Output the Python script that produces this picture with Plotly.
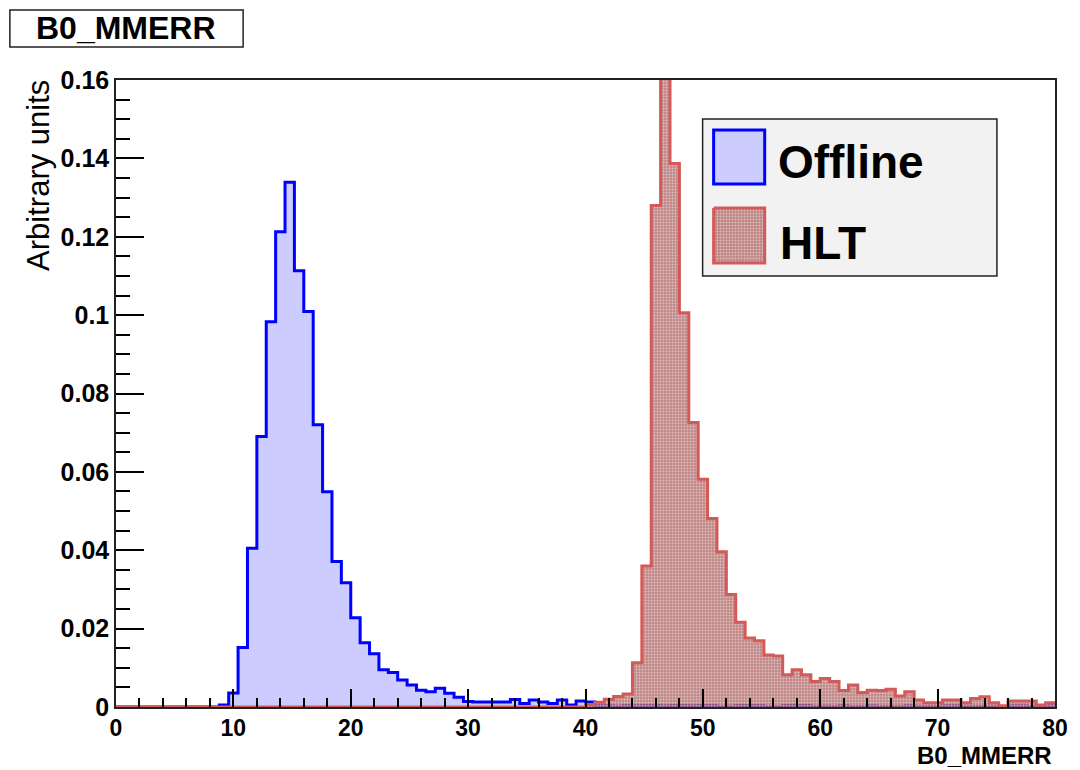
import numpy as np
import plotly.graph_objects as go

# ---------------- data ----------------
x_min, x_max = 0.0, 80.0
n_bins = 100
bin_edges = np.linspace(x_min, x_max, n_bins + 1)

offline_values = [
    0, 0, 0, 0, 0, 0, 0, 0, 0, 0,
    0, 0.0005, 0.0036, 0.0152, 0.0405, 0.0690, 0.0983, 0.1213, 0.1339, 0.1113,
    0.1009, 0.0720, 0.0549, 0.0371, 0.0317, 0.0228, 0.0164, 0.0136, 0.0095, 0.0088,
    0.0069, 0.0056, 0.0043, 0.0039, 0.0048, 0.0035, 0.0025, 0.0014, 0.0013, 0.0013,
    0.0013, 0.0013, 0.0019, 0.0009, 0.0018, 0.0013, 0.0009, 0.0018, 0.0005, 0.0015,
    0.0013, 0.0004, 0.0003, 0.0002, 0.0004, 0.0003, 0.0004, 0.0004, 0.0003, 0.0004,
    0.0004, 0.0003, 0.0004, 0.0004, 0.0001, 0.0002, 0.0004, 0.0004, 0.0004, 0.0001,
    0.0001, 0.0004, 0.0004, 0.0004, 0.0001, 0.0002, 0.0001, 0.0003, 0.0001, 0.0001,
    0.0003, 0.0001, 0.0001, 0.0001, 0.0003, 0.0001, 0.0001, 0.0001, 0.0003, 0.0003,
    0.0001, 0.0001, 0.0001, 0.0001, 0.0001, 0.0003, 0.0003, 0.0001, 0.0001, 0.0003,
]

hlt_values = [
    0, 0, 0, 0, 0, 0, 0, 0, 0, 0,
    0, 0, 0, 0, 0, 0, 0, 0, 0, 0,
    0, 0, 0, 0, 0, 0, 0, 0, 0, 0,
    0, 0, 0, 0, 0, 0, 0, 0, 0, 0,
    0, 0, 0, 0, 0, 0, 0, 0, 0, 0,
    0.0006, 0.0012, 0.0020, 0.0027, 0.0033, 0.0113, 0.0360, 0.1280, 0.1700, 0.1387,
    0.1006, 0.0726, 0.0581, 0.0481, 0.0396, 0.0287, 0.0216, 0.0176, 0.0169, 0.0133,
    0.0130, 0.0082, 0.0095, 0.0082, 0.0065, 0.0073, 0.0065, 0.0042, 0.0056, 0.0037,
    0.0043, 0.0042, 0.0045, 0.0028, 0.0039, 0.0018, 0.0011, 0.0011, 0.0018, 0.0018,
    0.0011, 0.0022, 0.0026, 0.0011, 0.0003, 0.0015, 0.0015, 0.0015, 0.0005, 0.0011,
]

x_ticks = [0, 10, 20, 30, 40, 50, 60, 70, 80]
y_ticks = [0, 0.02, 0.04, 0.06, 0.08, 0.1, 0.12, 0.14, 0.16]
y_ticktext = ["0", "0.02", "0.04", "0.06", "0.08", "0.1", "0.12", "0.14", "0.16"]
series_names = ["Offline", "HLT"]
title_text = "B0_MMERR"
x_title = "B0_MMERR"
y_title = "Arbitrary units"

# ---------------- style ----------------
BLUE = "#0000FF"
BLUE_FILL = "#CCCCFF"
RED = "#D45A5A"
FONT = "Liberation Sans, Arial, Helvetica, sans-serif"
HATCH = dict(shape=".", size=3, solidity=0.35, fgcolor="rgba(255,255,255,0.95)",
             bgcolor="rgba(176,100,100,0.78)")

# page offset of the figure (browser body margin)
OFF = 8
W, H = 1080 - OFF, 770 - OFF
# plot-area edges in page pixels
L, R, T, B = 116, 1054, 80, 707


def px(x):
    return (x - L) / (R - L)


def py(y):
    return (B - y) / (B - T)


def step_xy(values):
    xs = list(bin_edges)
    ys = list(values) + [values[-1]]
    return xs, ys


fig = go.Figure()

ox, oy = step_xy(offline_values)
fig.add_trace(go.Scatter(
    x=ox, y=oy, mode="lines", line=dict(color=BLUE, width=3, shape="hv"),
    fill="tozeroy", fillcolor=BLUE_FILL, name=series_names[0], showlegend=False,
    hoverinfo="skip",
))

hx, hy = step_xy(hlt_values)
fig.add_trace(go.Scatter(
    x=hx, y=hy, mode="lines", line=dict(color=RED, width=3, shape="hv"),
    fill="tozeroy", fillcolor="rgba(255,255,255,0)", fillpattern=HATCH,
    name=series_names[1], showlegend=False, hoverinfo="skip",
))

# legend symbol for HLT (pattern) on a pixel-based overlay axis
lx0, lx1, ly0, ly1 = 713, 764, 208, 263
fig.add_trace(go.Scatter(
    x=[lx0, lx1, lx1, lx0, lx0], y=[ly0, ly0, ly1, ly1, ly0],
    xaxis="x2", yaxis="y2", mode="lines", line=dict(color=RED, width=3),
    fill="toself", fillcolor="rgba(255,255,255,0)", fillpattern=HATCH,
    showlegend=False, hoverinfo="skip",
))

shapes = [
    dict(type="rect", xref="paper", yref="paper", x0=px(702), x1=px(996),
         y0=py(119), y1=py(276), fillcolor="#F2F2F2",
         line=dict(color="#222222", width=1.5), layer="below"),
    dict(type="rect", xref="paper", yref="paper", x0=px(713), x1=px(764),
         y0=py(130), y1=py(184), fillcolor=BLUE_FILL,
         line=dict(color=BLUE, width=3), layer="above"),
    dict(type="rect", xref="paper", yref="paper", x0=px(10), x1=px(243),
         y0=py(10), y1=py(47), fillcolor="white",
         line=dict(color="#222222", width=1.5)),
]

annotations = [
    dict(text=title_text, xref="paper", yref="paper", x=px(126), y=py(28),
         xanchor="center", yanchor="middle", showarrow=False,
         font=dict(family=FONT, size=32, color="black", weight="bold")),
    dict(text=series_names[0], xref="paper", yref="paper", x=px(775), y=py(162),
         xanchor="left", yanchor="middle", showarrow=False,
         font=dict(family=FONT, size=46, color="black", weight="bold")),
    dict(text=series_names[1], xref="paper", yref="paper", x=px(777), y=py(243),
         xanchor="left", yanchor="middle", showarrow=False,
         font=dict(family=FONT, size=46, color="black", weight="bold")),
    dict(text=x_title, xref="paper", yref="paper", x=px(1053), y=py(755),
         xanchor="right", yanchor="middle", showarrow=False,
         font=dict(family=FONT, size=24, color="black", weight="bold")),
    dict(text=y_title, xref="paper", yref="paper", x=px(38), y=py(175),
         xanchor="center", yanchor="middle", textangle=-90, showarrow=False,
         font=dict(family=FONT, size=31, color="black")),
]

fig.update_layout(
    width=W, height=H,
    margin=dict(l=L - OFF, r=(W + OFF) - R - OFF, t=T - OFF, b=(H + OFF) - B, pad=0),
    paper_bgcolor="white", plot_bgcolor="white",
    showlegend=False,
    shapes=shapes, annotations=annotations,
    xaxis=dict(
        range=[x_min, x_max], tickvals=x_ticks, ticktext=[str(v) for v in x_ticks],
        ticks="inside", ticklen=18, tickwidth=1.5, tickcolor="black",
        minor=dict(ticks="inside", ticklen=9, dtick=2, tickwidth=1.5, tickcolor="black"),
        showgrid=False, zeroline=False, showline=True, linecolor="#222222",
        linewidth=1.5, mirror=True, layer="above traces",
        tickfont=dict(family=FONT, size=23, color="black", weight="bold"),
    ),
    yaxis=dict(
        range=[0, 0.16], tickvals=y_ticks, ticktext=y_ticktext,
        ticks="inside", ticklen=28, tickwidth=1.5, tickcolor="black",
        minor=dict(ticks="inside", ticklen=14, dtick=0.005, tickwidth=1.5, tickcolor="black"),
        showgrid=False, zeroline=False, showline=True, linecolor="#222222",
        linewidth=1.5, mirror=True, layer="above traces",
        tickfont=dict(family=FONT, size=25, color="black", weight="bold"),
    ),
    xaxis2=dict(overlaying="x", range=[L, R], visible=False, anchor="y2"),
    yaxis2=dict(overlaying="y", range=[B, T], visible=False, anchor="x2"),
)

fig.write_html("out.html")
